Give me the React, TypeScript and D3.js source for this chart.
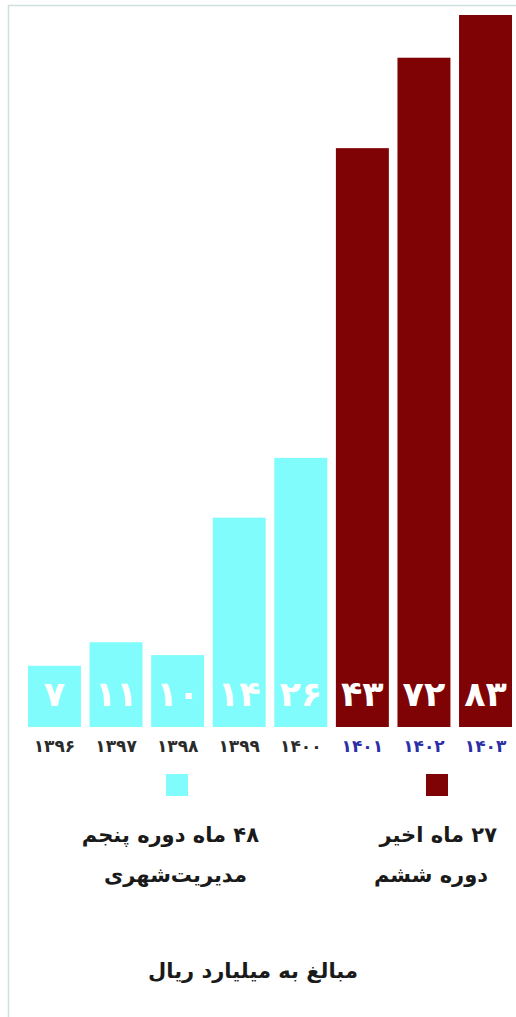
import React from 'react';
import * as d3 from 'd3';

// years (Persian calendar) and the amounts printed in the bars, billion rials
const years = ['۱۳۹۶', '۱۳۹۷', '۱۳۹۸', '۱۳۹۹', '۱۴۰۰', '۱۴۰۱', '۱۴۰۲', '۱۴۰۳'];
const amounts = [7, 11, 10, 14, 26, 43, 72, 83];
// bar heights as drawn in the original (index, tallest = 100), not proportional to amounts
const drawnLevel = [8.6, 11.9, 10.1, 29.4, 37.8, 81.3, 94.0, 100];
// which term each year belongs to: 5 = fifth term, 6 = sixth term
const term = [5, 5, 5, 5, 5, 6, 6, 6];

const legendFifth = ['۴۸ ماه دوره پنجم', 'مدیریت‌شهری'];
const legendSixth = ['۲۷ ماه اخیر', 'دوره ششم'];
const footnote = 'مبالغ به میلیارد ریال';

const W = 516;
const H = 1017;
const CYAN = '#80fcfd';
const MAROON = '#7f0204';
const FONT = '"DejaVu Sans", sans-serif';

const toFa = (n: number) => String(n).replace(/\d/g, (c) => '۰۱۲۳۴۵۶۷۸۹'[+c]);

const App: React.FC = () => {
  const x = d3.scaleBand<string>().domain(years).range([28, 512]).paddingInner(0.14).paddingOuter(0);
  const y = d3.scaleLinear().domain([0, 100]).range([727, 15]);
  const color = (t: number) => (t === 5 ? CYAN : MAROON);

  return (
    <svg
      width={W}
      height={H}
      style={{ position: 'absolute', left: 0, top: 0, background: '#fff' }}
      fontFamily={FONT}
    >
      {/* frame */}
      <path d={`M8.5,${H} V5.5 H${W}`} fill="none" stroke="#cfdfdf" strokeWidth={1.5} />

      {years.map((yr, i) => {
        const bx = x(yr) as number;
        const bw = x.bandwidth();
        return (
          <g key={yr}>
            <rect x={bx} y={y(drawnLevel[i])} width={bw} height={y(0) - y(drawnLevel[i])} fill={color(term[i])} />
            <text
              x={bx + bw / 2}
              y={706}
              textAnchor="middle"
              fill="#fff"
              fontSize={35}
              fontWeight="bold"
            >
              {toFa(amounts[i])}
            </text>
            <text
              x={bx + bw / 2}
              y={752}
              textAnchor="middle"
              fill={term[i] === 5 ? '#2b2b2b' : '#2b2fa8'}
              fontSize={17}
              fontWeight="bold"
            >
              {yr}
            </text>
          </g>
        );
      })}

      {/* legend */}
      <rect x={166} y={774} width={22} height={22} fill={CYAN} />
      <rect x={426} y={774} width={22} height={22} fill={MAROON} />
      {legendFifth.map((t, i) => (
        <text key={t} x={i === 0 ? 259 : 247} y={842 + i * 40} direction="rtl" textAnchor="start"
          fontSize={21} fontWeight="bold" fill="#1a1a1a">
          {t}
        </text>
      ))}
      {legendSixth.map((t, i) => (
        <text key={t} x={i === 0 ? 497 : 488} y={842 + i * 40} direction="rtl" textAnchor="start"
          fontSize={21} fontWeight="bold" fill="#1a1a1a">
          {t}
        </text>
      ))}

      <text x={253} y={978} direction="rtl" textAnchor="middle" fontSize={21} fontWeight="bold" fill="#1a1a1a">
        {footnote}
      </text>
    </svg>
  );
};

export default App;
